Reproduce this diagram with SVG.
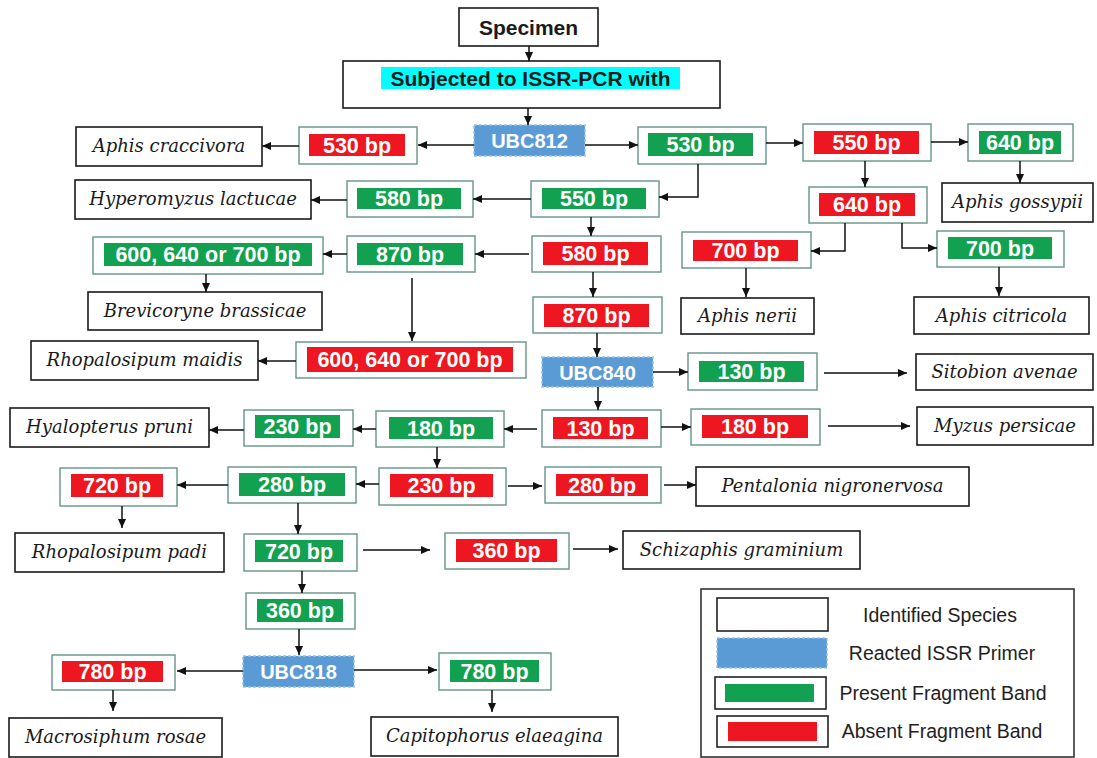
<svg xmlns="http://www.w3.org/2000/svg" width="1097" height="758" viewBox="0 0 1097 758">
<defs>
<style>
.sp rect{fill:#fff;stroke:#1a1a1a;stroke-width:1.6}
.sp text{font-family:"DejaVu Serif",serif;font-style:italic;font-size:18px;fill:#1a1a1a;text-anchor:middle}
.bd .o{fill:#fff;stroke:#6f9a92;stroke-width:1.5}
.g .f{fill:#12a150}
.r .f{fill:#ee1620}
.bd text{font-family:"Liberation Sans",Arial,sans-serif;font-weight:bold;font-size:21.5px;fill:#fff;text-anchor:middle}
.pr rect{fill:#5b9bd5;stroke:#9cc2e8;stroke-width:1.5;stroke-dasharray:3 2}
.pr text{font-family:"Liberation Sans",Arial,sans-serif;font-weight:bold;font-size:20px;fill:#fff;text-anchor:middle}
.hd .box{fill:#fff;stroke:#1a1a1a;stroke-width:1.6}
.hd .hl{fill:#00ffff;stroke:none}
.hd text{font-family:"Liberation Sans",Arial,sans-serif;font-weight:bold;font-size:21px;fill:#1a1a1a;text-anchor:middle}
.cn path{fill:none;stroke:#111;stroke-width:1.5;marker-end:url(#ah)}
.lg text{font-family:"Liberation Sans",Arial,sans-serif;font-size:19.5px;fill:#222;text-anchor:middle}
</style>
<marker id="ah" markerWidth="10" markerHeight="10" refX="9" refY="5" orient="auto" markerUnits="userSpaceOnUse">
<path d="M0,1 L9,5 L0,9 Z" fill="#111"/>
</marker>
</defs>
<rect width="1097" height="758" fill="#fff"/>

<g id="specimen" class="hd"><rect class="box" x="459" y="8" width="139" height="38"/><text x="528.5" y="34.5" font-size="22">Specimen</text></g>
<g id="subjected" class="hd"><rect class="box" x="343" y="61" width="377" height="47"/><rect class="hl" x="381" y="67" width="299" height="22"/><text x="530.5" y="86">Subjected to ISSR-PCR with</text></g>

<g id="ubc812" class="pr"><rect x="474" y="125" width="111" height="31"/><text x="529.5" y="148">UBC812</text></g>
<g id="ubc840" class="pr"><rect x="542" y="357" width="111" height="30"/><text x="597.5" y="379.5">UBC840</text></g>
<g id="ubc818" class="pr"><rect x="243" y="656" width="111" height="31"/><text x="298.5" y="679">UBC818</text></g>

<g id="b530r" class="bd r"><rect class="o" x="299" y="127" width="118" height="37"/><rect class="f" x="309" y="134" width="96" height="22"/><text x="357" y="152.5">530 bp</text></g>
<g id="b530g" class="bd g"><rect class="o" x="638" y="127" width="128" height="37"/><rect class="f" x="648" y="133" width="105" height="23"/><text x="700.5" y="152">530 bp</text></g>
<g id="b550r" class="bd r"><rect class="o" x="803" y="124" width="128" height="37"/><rect class="f" x="814" y="131" width="105" height="23"/><text x="866.5" y="150">550 bp</text></g>
<g id="b640g" class="bd g"><rect class="o" x="968" y="124" width="105" height="37"/><rect class="f" x="979" y="131" width="82" height="23"/><text x="1020" y="150">640 bp</text></g>
<g id="b640r" class="bd r"><rect class="o" x="809" y="187" width="118" height="36"/><rect class="f" x="819" y="193" width="96" height="23"/><text x="867" y="212">640 bp</text></g>
<g id="b700r" class="bd r"><rect class="o" x="682" y="232" width="129" height="36"/><rect class="f" x="693" y="240" width="105" height="21"/><text x="745.5" y="258">700 bp</text></g>
<g id="b700g" class="bd g"><rect class="o" x="937" y="231" width="127" height="36"/><rect class="f" x="948" y="237" width="104" height="22"/><text x="1000" y="255.5">700 bp</text></g>
<g id="b550g" class="bd g"><rect class="o" x="531" y="181" width="128" height="36"/><rect class="f" x="542" y="188" width="104" height="21"/><text x="594" y="206">550 bp</text></g>
<g id="b580g" class="bd g"><rect class="o" x="347" y="181" width="126" height="36"/><rect class="f" x="357" y="188" width="104" height="21"/><text x="409" y="206">580 bp</text></g>
<g id="b580r" class="bd r"><rect class="o" x="532" y="236" width="129" height="36"/><rect class="f" x="543" y="242" width="105" height="23"/><text x="595.5" y="261">580 bp</text></g>
<g id="b870g" class="bd g"><rect class="o" x="347" y="236" width="128" height="36"/><rect class="f" x="357" y="243" width="106" height="22"/><text x="410" y="261.5">870 bp</text></g>
<g id="b600g" class="bd g"><rect class="o" x="93" y="237" width="230" height="37"/><rect class="f" x="104" y="243" width="208" height="23"/><text x="208" y="262">600, 640 or 700 bp</text></g>
<g id="b600r" class="bd r"><rect class="o" x="296" y="342" width="230" height="36"/><rect class="f" x="307" y="347" width="206" height="25"/><text x="410" y="367">600, 640 or 700 bp</text></g>
<g id="b870r" class="bd r"><rect class="o" x="533" y="297" width="129" height="36"/><rect class="f" x="544" y="304" width="105" height="23"/><text x="596.5" y="323">870 bp</text></g>
<g id="b130g" class="bd g"><rect class="o" x="688" y="353" width="129" height="37"/><rect class="f" x="699" y="361" width="105" height="21"/><text x="751.5" y="379">130 bp</text></g>
<g id="b130r" class="bd r"><rect class="o" x="542" y="410" width="119" height="37"/><rect class="f" x="553" y="417" width="95" height="22"/><text x="600.5" y="435.5">130 bp</text></g>
<g id="b180r" class="bd r"><rect class="o" x="691" y="409" width="129" height="36"/><rect class="f" x="702" y="415" width="106" height="23"/><text x="755" y="434">180 bp</text></g>
<g id="b180g" class="bd g"><rect class="o" x="376" y="411" width="128" height="36"/><rect class="f" x="389" y="417" width="104" height="22"/><text x="441" y="435.5">180 bp</text></g>
<g id="b230g" class="bd g"><rect class="o" x="244" y="410" width="109" height="36"/><rect class="f" x="255" y="415" width="85" height="23"/><text x="297.5" y="434">230 bp</text></g>
<g id="b230r" class="bd r"><rect class="o" x="379" y="468" width="127" height="37"/><rect class="f" x="390" y="474" width="103" height="23"/><text x="441.5" y="493">230 bp</text></g>
<g id="b280r" class="bd r"><rect class="o" x="545" y="467" width="116" height="36"/><rect class="f" x="556" y="474" width="92" height="22"/><text x="602" y="492.5">280 bp</text></g>
<g id="b280g" class="bd g"><rect class="o" x="228" y="467" width="128" height="36"/><rect class="f" x="239" y="473" width="106" height="23"/><text x="292" y="492">280 bp</text></g>
<g id="b720r" class="bd r"><rect class="o" x="60" y="468" width="117" height="38"/><rect class="f" x="71" y="474" width="92" height="23"/><text x="117" y="493">720 bp</text></g>
<g id="b720g" class="bd g"><rect class="o" x="244" y="534" width="113" height="37"/><rect class="f" x="255" y="540" width="88" height="22"/><text x="299" y="558.5">720 bp</text></g>
<g id="b360r" class="bd r"><rect class="o" x="445" y="533" width="124" height="36"/><rect class="f" x="456" y="539" width="101" height="23"/><text x="506.5" y="558">360 bp</text></g>
<g id="b360g" class="bd g"><rect class="o" x="246" y="593" width="109" height="36"/><rect class="f" x="257" y="599" width="86" height="23"/><text x="300" y="618">360 bp</text></g>
<g id="b780r" class="bd r"><rect class="o" x="52" y="655" width="123" height="35"/><rect class="f" x="62" y="661" width="101" height="21"/><text x="112.5" y="679">780 bp</text></g>
<g id="b780g" class="bd g"><rect class="o" x="439" y="653" width="112" height="37"/><rect class="f" x="450" y="660" width="89" height="22"/><text x="494.5" y="678.5">780 bp</text></g>

<g id="craccivora" class="sp"><rect x="76" y="127" width="186" height="39"/><text x="169" y="152">Aphis craccivora</text></g>
<g id="gossypii" class="sp"><rect x="942" y="183" width="151" height="39"/><text x="1017.5" y="208">Aphis gossypii</text></g>
<g id="nerii" class="sp"><rect x="681" y="298" width="133" height="36"/><text x="747.5" y="322">Aphis nerii</text></g>
<g id="citricola" class="sp"><rect x="914" y="297" width="175" height="37"/><text x="1001.5" y="321.5">Aphis citricola</text></g>
<g id="hyperomyzus" class="sp"><rect x="75" y="180" width="236" height="39"/><text x="193" y="205">Hyperomyzus lactucae</text></g>
<g id="brevicoryne" class="sp"><rect x="88" y="292" width="234" height="38"/><text x="205" y="317">Brevicoryne brassicae</text></g>
<g id="maidis" class="sp"><rect x="31" y="341" width="227" height="39"/><text x="144.5" y="366">Rhopalosipum maidis</text></g>
<g id="sitobion" class="sp"><rect x="916" y="354" width="177" height="36"/><text x="1004.5" y="378">Sitobion avenae</text></g>
<g id="myzus" class="sp"><rect x="917" y="407" width="176" height="38"/><text x="1005" y="432">Myzus persicae</text></g>
<g id="hyalopterus" class="sp"><rect x="10" y="408" width="199" height="39"/><text x="109.5" y="433">Hyalopterus pruni</text></g>
<g id="pentalonia" class="sp"><rect x="696" y="467" width="273" height="39"/><text x="832.5" y="492">Pentalonia nigronervosa</text></g>
<g id="padi" class="sp"><rect x="15" y="533" width="209" height="39"/><text x="119.5" y="558">Rhopalosipum padi</text></g>
<g id="schizaphis" class="sp"><rect x="623" y="531" width="237" height="38"/><text x="741.5" y="556">Schizaphis graminium</text></g>
<g id="macrosiphum" class="sp"><rect x="9" y="718" width="213" height="39"/><text x="115.5" y="743">Macrosiphum rosae</text></g>
<g id="capitophorus" class="sp"><rect x="371" y="717" width="247" height="39"/><text x="494.5" y="742">Capitophorus elaeagina</text></g>

<g id="connectors" class="cn">
<path d="M529,46 V61"/>
<path d="M528,108 V125"/>
<path d="M474,145 H418"/>
<path d="M299,146 H262"/>
<path d="M585,145 H638"/>
<path d="M766,143 H803"/>
<path d="M931,142 H968"/>
<path d="M1020,161 V183"/>
<path d="M865,161 V187"/>
<path d="M845,223 V251 H811"/>
<path d="M746,268 V297"/>
<path d="M902,223 V248 H937"/>
<path d="M999,267 V296"/>
<path d="M698,164 V197 H659"/>
<path d="M531,199 H473"/>
<path d="M347,200 H311"/>
<path d="M591,217 V236"/>
<path d="M529,254 H475"/>
<path d="M347,254 H323"/>
<path d="M206,274 V292"/>
<path d="M412,278 V341"/>
<path d="M296,361 H258"/>
<path d="M593,272 V297"/>
<path d="M597,333 V357"/>
<path d="M653,372 H688"/>
<path d="M824,373 H907"/>
<path d="M598,387 V410"/>
<path d="M661,427 H691"/>
<path d="M828,426 H910"/>
<path d="M537,429 H504"/>
<path d="M376,429 H353"/>
<path d="M244,430 H209"/>
<path d="M437,447 V468"/>
<path d="M508,486 H542"/>
<path d="M664,485 H696"/>
<path d="M379,484 H356"/>
<path d="M228,485 H177"/>
<path d="M122,506 V528"/>
<path d="M298,503 V534"/>
<path d="M363,550 H430"/>
<path d="M573,549 H618"/>
<path d="M302,571 V593"/>
<path d="M299,629 V655"/>
<path d="M243,671 H177"/>
<path d="M113,690 V711"/>
<path d="M354,670 H437"/>
<path d="M492,690 V712"/>
</g>

<g id="legend" class="lg">
<rect x="701" y="589" width="373" height="168" fill="#fff" stroke="#333" stroke-width="1.6"/>
<rect x="717" y="598" width="111" height="33" fill="#fff" stroke="#222" stroke-width="1.6"/>
<text x="940" y="622">Identified Species</text>
<rect x="717" y="638" width="110" height="30" fill="#5b9bd5" stroke="#9cc2e8" stroke-width="1.5" stroke-dasharray="3 2"/>
<text x="942" y="660">Reacted ISSR Primer</text>
<rect x="715" y="677" width="111" height="32" fill="#fff" stroke="#222" stroke-width="1.6"/>
<rect x="725" y="684" width="89" height="18" fill="#12a150"/>
<text x="943" y="700">Present Fragment Band</text>
<rect x="717" y="716" width="111" height="31" fill="#fff" stroke="#222" stroke-width="1.6"/>
<rect x="728" y="722" width="89" height="19" fill="#ee1620"/>
<text x="942" y="738">Absent Fragment Band</text>
</g>
</svg>
